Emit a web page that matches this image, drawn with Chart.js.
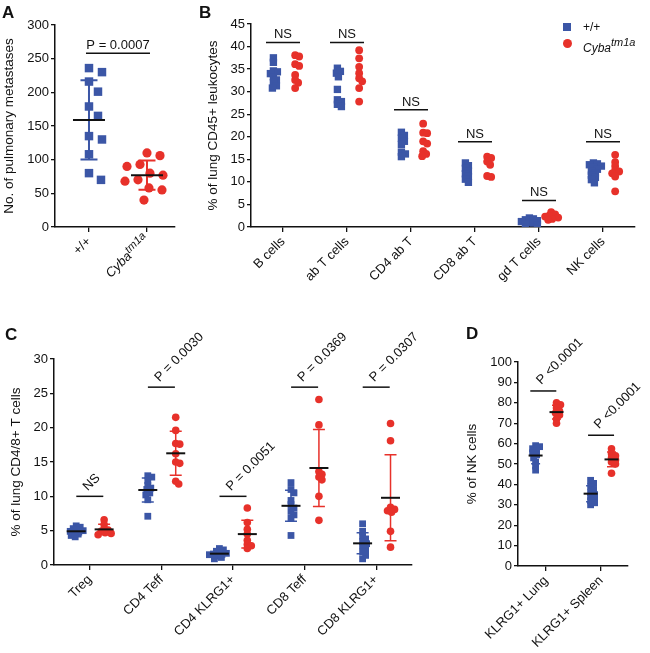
<!DOCTYPE html>
<html>
<head>
<meta charset="utf-8">
<script src="https://cdn.jsdelivr.net/npm/chart.js@4.4.1/dist/chart.umd.min.js"></script>
<style>
    body { margin: 0; background: #fff; font-family: 'Liberation Sans', Arial, sans-serif; }
    #wrap { position: relative; width: 650px; height: 653px; overflow: hidden; }
    .panel { position: absolute; }
    .letter { position: absolute; font-weight: bold; font-size: 17px; color: #111; line-height: 1; }
    .key { position: absolute; font-size: 12px; color: #111; line-height: 1; }
    .sq { position: absolute; width: 8px; height: 8px; background: #3b56a6; }
    .dot { position: absolute; width: 9px; height: 9px; border-radius: 50%; background: #e7312a; }
</style>
</head>
<body>
<div id="wrap">
    <div class="panel" style="left:0;top:0;width:195px;height:300px"><canvas id="chartA"></canvas></div>
    <div class="panel" style="left:195px;top:0;width:455px;height:300px"><canvas id="chartB"></canvas></div>
    <div class="panel" style="left:0;top:300px;width:425px;height:353px"><canvas id="chartC"></canvas></div>
    <div class="panel" style="left:440px;top:300px;width:210px;height:353px"><canvas id="chartD"></canvas></div>

    <div class="letter" style="left:2px;top:4px">A</div>
    <div class="letter" style="left:199px;top:4px">B</div>
    <div class="letter" style="left:5px;top:326px">C</div>
    <div class="letter" style="left:466px;top:325px">D</div>

    <span class="sq" style="left:563px;top:23px"></span>
    <span class="key" style="left:583px;top:21px">+/+</span>
    <span class="dot" style="left:563px;top:39px"></span>
    <span class="key" style="left:583px;top:38px"><i>Cyba</i><sup style="font-size:11px;position:relative;top:-1px"><i>tm1a</i></sup></span>
</div>

<script>
const BLUE = '#3b56a6';
const RED = '#e7312a';
const INK = '#111';
const FONT = "'Liberation Sans', Arial, sans-serif";

// ---- Panel A: pulmonary metastases ----
const aCats = ['+/+', ''];          // second label is drawn by hand (italic + superscript)
const aWild = [236, 230, 216, 201, 179, 165, 135, 130, 108, 80, 70];
const aMutant = [110, 106, 93, 90, 80, 77, 70, 68, 58, 55, 40];
const aYTicks = [0, 50, 100, 150, 200, 250, 300];
const aSigX = [0.5];
const aSigY = [258];
const aSigText = ['P = 0.0007'];

// ---- Panel B: lung CD45+ leukocytes ----
const bCats = ['B cells', 'ab T cells', 'CD4 ab T', 'CD8 ab T', 'gd T cells', 'NK cells'];
const bWild = [
    [37.5, 36.5, 34.6, 34.4, 34.0, 33.3, 32.6, 32.0, 31.3, 30.8],
    [35.2, 34.5, 34.1, 33.3, 30.5, 28.2, 27.8, 27.2, 26.7],
    [21.0, 20.3, 19.7, 19.0, 18.3, 16.6, 16.2, 15.6],
    [14.2, 13.6, 13.0, 12.4, 11.8, 11.2, 10.6, 9.9],
    [2.0, 1.8, 1.6, 1.4, 1.2, 1.0, 0.9, 0.7, 0.5],
    [14.2, 14.0, 13.8, 13.5, 13.2, 12.8, 12.4, 12.0, 11.5, 11.0, 10.5, 9.8]
];
const bMutant = [
    [38.1, 37.8, 36.1, 35.7, 33.7, 32.6, 32.0, 30.8],
    [39.2, 37.4, 35.5, 34.1, 33.0, 32.3, 30.8, 27.8],
    [22.9, 20.9, 20.8, 19.0, 18.5, 16.8, 16.2, 15.7],
    [15.6, 15.3, 14.5, 13.8, 11.3, 11.1],
    [3.3, 2.8, 2.5, 2.3, 2.1, 1.8, 1.6],
    [16.0, 14.4, 13.5, 12.6, 12.3, 11.9, 11.2, 7.9]
];
const bYTicks = [0, 5, 10, 15, 20, 25, 30, 35, 40, 45];
const bSigX = [0, 1, 2, 3, 4, 5];
const bSigY = [40.9, 40.9, 26.0, 18.9, 5.9, 18.9];
const bSigText = ['NS', 'NS', 'NS', 'NS', 'NS', 'NS'];

// ---- Panel C: lung CD4/8+ T cells ----
const cCats = ['Treg', 'CD4 Teff', 'CD4 KLRG1+', 'CD8 Teff', 'CD8 KLRG1+'];
const cWild = [
    [5.7, 5.5, 5.3, 5.1, 5.0, 4.9, 4.7, 4.5, 4.3, 4.1],
    [13.0, 12.8, 12.3, 11.6, 11.2, 11.0, 10.5, 10.2, 9.5, 7.1],
    [2.4, 2.2, 2.0, 1.8, 1.7, 1.6, 1.5, 1.3, 1.1, 0.9],
    [12.0, 11.0, 10.5, 9.4, 8.8, 8.3, 7.8, 7.3, 6.8, 4.3],
    [6.0, 4.9, 4.2, 3.8, 3.4, 3.1, 2.8, 2.3, 1.9, 1.4, 0.9]
];
const cMutant = [
    [6.6, 5.9, 5.3, 5.1, 4.9, 4.7, 4.6, 4.4],
    [21.5, 19.6, 17.7, 17.6, 16.2, 15.0, 14.8, 12.2, 11.8],
    [8.3, 6.2, 5.2, 4.5, 3.6, 3.0, 2.8, 2.4],
    [24.1, 20.4, 13.6, 13.2, 12.8, 12.4, 10.0, 6.5],
    [20.6, 18.1, 8.4, 8.1, 7.9, 7.7, 4.9, 2.6]
];
const cYTicks = [0, 5, 10, 15, 20, 25, 30];
const cSigX = [0, 1, 2, 3, 4];
const cSigY = [10.0, 25.9, 10.0, 25.9, 25.9];
const cSigText = ['NS', 'P = 0.0030', 'P = 0.0051', 'P = 0.0369', 'P = 0.0307'];

// ---- Panel D: NK cells ----
const dCats = ['KLRG1+ Lung', 'KLRG1+ Spleen'];
const dWild = [
    [59, 58.5, 57.5, 56.5, 55.5, 54.5, 53, 51, 49, 47],
    [42, 40.5, 39, 37.5, 36, 35, 34, 33, 32, 31, 30]
];
const dMutant = [
    [80, 79, 77.5, 76, 75, 74, 72, 70],
    [57.5, 55, 54, 53, 52, 51, 50, 45.5]
];
const dYTicks = [0, 10, 20, 30, 40, 50, 60, 70, 80, 90, 100];
const dSigX = [-0.05, 1];
const dSigY = [85.8, 64.1];
const dSigText = ['P <0.0001', 'P <0.0001'];

function groupPoints(valuesByCat, offset) {
    const pts = [];
    valuesByCat.forEach((vals, i) => vals.forEach(v => pts.push({ x: i + offset, y: v, base: i + offset })));
    return pts;
}

function groupStats(ds) {
    const groups = new Map();
    ds.data.forEach(p => {
        if (!groups.has(p.base)) groups.set(p.base, []);
        groups.get(p.base).push(p.y);
    });
    const out = [];
    groups.forEach((ys, base) => {
        const mean = ys.reduce((a, b) => a + b, 0) / ys.length;
        const sd = Math.sqrt(ys.reduce((a, b) => a + (b - mean) ** 2, 0) / (ys.length - 1));
        out.push({ base, mean, sd });
    });
    return out;
}

// spread points sideways so that close values sit next to each other
function swarm(chart) {
    const xs = chart.scales.x, ys = chart.scales.y;
    chart.data.datasets.forEach(ds => {
        const gap = ds.swarmGap;
        const byBase = new Map();
        ds.data.forEach(p => {
            if (!byBase.has(p.base)) byBase.set(p.base, []);
            byBase.get(p.base).push(p);
        });
        const out = [];
        byBase.forEach((pts, base) => {
            const cx = xs.getPixelForValue(base);
            const placed = [];
            pts.slice().sort((a, b) => b.y - a.y).forEach(p => {
                const py = ys.getPixelForValue(p.y);
                let off = 0;
                for (let k = 0; k < 400; k++) {
                    const o = (k % 2 ? 1 : -1) * Math.ceil(k / 2);
                    if (placed.every(q => (q.px - cx - o) ** 2 + (q.py - py) ** 2 >= gap * gap)) { off = o; break; }
                }
                placed.push({ px: cx + off, py });
                out.push({ x: xs.getValueForPixel(cx + off), y: p.y, base });
            });
        });
        ds.data = out;
    });
    chart.update('none');
}

const statsPlugin = {
    id: 'stats',
    beforeDatasetsDraw(chart, args, o) {
        if (!o.capHalf) return;
        const { ctx } = chart, xs = chart.scales.x, ys = chart.scales.y;
        chart.data.datasets.forEach(ds => {
            groupStats(ds).forEach(g => {
                const x = xs.getPixelForValue(g.base);
                const y1 = ys.getPixelForValue(g.mean - g.sd), y2 = ys.getPixelForValue(g.mean + g.sd);
                ctx.save();
                ctx.strokeStyle = ds.backgroundColor;
                ctx.lineWidth = o.barWidth;
                ctx.beginPath();
                ctx.moveTo(x, y1); ctx.lineTo(x, y2);
                ctx.moveTo(x - o.capHalf, y1); ctx.lineTo(x + o.capHalf, y1);
                ctx.moveTo(x - o.capHalf, y2); ctx.lineTo(x + o.capHalf, y2);
                ctx.stroke();
                ctx.restore();
            });
        });
    },
    afterDatasetsDraw(chart, args, o) {
        const { ctx } = chart, xs = chart.scales.x, ys = chart.scales.y;
        ctx.save();
        if (o.meanHalf) {
            ctx.strokeStyle = INK;
            ctx.lineWidth = 2;
            chart.data.datasets.forEach(ds => {
                groupStats(ds).forEach(g => {
                    const x = xs.getPixelForValue(g.base), y = ys.getPixelForValue(g.mean);
                    ctx.beginPath(); ctx.moveTo(x - o.meanHalf, y); ctx.lineTo(x + o.meanHalf, y); ctx.stroke();
                });
            });
        }
        ctx.strokeStyle = INK;
        ctx.lineWidth = 1.5;
        ctx.fillStyle = INK;
        ctx.font = '13px ' + FONT;
        o.sig.forEach(s => {
            const cx = xs.getPixelForValue(s.x), y = ys.getPixelForValue(s.y);
            ctx.beginPath(); ctx.moveTo(cx - o.sigHalf, y); ctx.lineTo(cx + o.sigHalf, y); ctx.stroke();
            if (o.sigRotate) {
                ctx.save();
                ctx.translate(cx + o.textDx, y + o.textDy);
                ctx.rotate(-Math.PI / 4);
                ctx.textAlign = 'left';
                ctx.textBaseline = 'alphabetic';
                ctx.fillText(s.text, 0, 0);
                ctx.restore();
            } else {
                ctx.textAlign = 'center';
                ctx.textBaseline = 'alphabetic';
                ctx.fillText(s.text, cx, y - 4);
            }
        });
        if (o.italicLabel) {
            // x label with italic gene name and superscript allele
            const lab = o.italicLabel;
            const x = xs.getPixelForValue(lab.at), y = xs.top + 10;
            ctx.translate(x, y);
            ctx.rotate(-Math.PI / 4);
            ctx.textBaseline = 'middle';
            ctx.textAlign = 'right';
            ctx.font = 'italic 11px ' + FONT;
            const wSup = ctx.measureText(lab.sup).width;
            ctx.fillText(lab.sup, 0, -4);
            ctx.font = 'italic 13px ' + FONT;
            ctx.fillText(lab.name, -wSup, 0);
        }
        ctx.restore();
    }
};

function buildPanel(id, p) {
    const datasets = p.groups.map(g => ({
        data: groupPoints(g.values, g.offset),
        pointStyle: g.shape,
        pointRadius: g.radius,
        pointHoverRadius: g.radius,
        backgroundColor: g.color,
        borderColor: g.color,
        pointBorderWidth: 0,
        showLine: false,
        swarmGap: p.gap
    }));
    const tickFont = { family: FONT, size: 13 };
    const chart = new Chart(document.getElementById(id), {
        type: 'scatter',
        data: { datasets },
        options: {
            responsive: true,
            maintainAspectRatio: false,
            animation: false,
            events: [],
            layout: { padding: p.pad },
            plugins: {
                legend: { display: false },
                tooltip: { enabled: false },
                stats: p.stats
            },
            scales: {
                x: {
                    type: 'linear',
                    min: p.xMin,
                    max: p.xMax,
                    afterBuildTicks: s => { s.ticks = p.cats.map((c, i) => ({ value: i })); },
                    afterFit: s => { s.height = p.xHeight; },
                    ticks: {
                        callback: v => p.cats[v],
                        minRotation: 45,
                        maxRotation: 45,
                        autoSkip: false,
                        color: INK,
                        font: tickFont,
                        padding: 2
                    },
                    grid: { drawOnChartArea: false, drawTicks: true, tickLength: 5, color: INK, lineWidth: 1.3 },
                    border: { color: INK, width: 1.5 }
                },
                y: {
                    min: p.yTicks[0],
                    max: p.yTicks[p.yTicks.length - 1],
                    afterBuildTicks: s => { s.ticks = p.yTicks.map(v => ({ value: v })); },
                    afterFit: s => { s.width = p.yWidth; },
                    title: {
                        display: true,
                        text: p.yTitle,
                        color: INK,
                        font: { family: FONT, size: 13.5 },
                        padding: { top: p.titlePad, bottom: 0 }
                    },
                    ticks: { color: INK, font: tickFont, padding: 2 },
                    grid: { drawOnChartArea: false, drawTicks: true, tickLength: 4, color: INK, lineWidth: 1.3 },
                    border: { color: INK, width: 1.5 }
                }
            }
        },
        plugins: [statsPlugin]
    });
    swarm(chart);
    return chart;
}

function sigList(xs, ys, texts) {
    return ys.map((y, i) => ({ x: xs[i], y, text: texts[i] }));
}

document.addEventListener('DOMContentLoaded', function() {
    buildPanel('chartA', {
        cats: aCats, yTicks: aYTicks, yTitle: 'No. of pulmonary metastases',
        xMin: -0.586, xMax: 1.483, xHeight: 73, yWidth: 55, titlePad: 1,
        pad: { left: 0, top: 25, right: 20, bottom: 0 }, gap: 13,
        groups: [
            { values: [aWild, []], offset: 0, shape: 'rect', radius: 6, color: BLUE },
            { values: [[], aMutant], offset: 0, shape: 'circle', radius: 4.6, color: RED }
        ],
        stats: {
            meanHalf: 16, capHalf: 8.5, barWidth: 2,
            sig: sigList(aSigX, aSigY, aSigText), sigHalf: 32, sigRotate: false,
            italicLabel: { at: 1, name: 'Cyba', sup: 'tm1a' }
        }
    });

    buildPanel('chartB', {
        cats: bCats, yTicks: bYTicks, yTitle: '% of lung CD45+ leukocytes',
        xMin: -0.5, xMax: 5.5, xHeight: 73, yWidth: 56, titlePad: 10,
        pad: { left: 0, top: 24, right: 15, bottom: 0 }, gap: 3.8,
        groups: [
            { values: bWild, offset: -0.15, shape: 'rect', radius: 5.2, color: BLUE },
            { values: bMutant, offset: 0.19, shape: 'circle', radius: 3.9, color: RED }
        ],
        stats: { sig: sigList(bSigX, bSigY, bSigText), sigHalf: 17, sigRotate: false }
    });

    buildPanel('chartC', {
        cats: cCats, yTicks: cYTicks, yTitle: '% of lung CD4/8+ T cells',
        xMin: -0.5, xMax: 4.5, xHeight: 88, yWidth: 54, titlePad: 8,
        pad: { left: 0, top: 59, right: 13, bottom: 0 }, gap: 4,
        groups: [
            { values: cWild, offset: -0.19, shape: 'rect', radius: 4.8, color: BLUE },
            { values: cMutant, offset: 0.2, shape: 'circle', radius: 3.8, color: RED }
        ],
        stats: {
            meanHalf: 9.5, capHalf: 6, barWidth: 1.5,
            sig: sigList(cSigX, cSigY, cSigText), sigHalf: 13.5, sigRotate: true, textDx: -2, textDy: -5
        }
    });

    buildPanel('chartD', {
        cats: dCats, yTicks: dYTicks, yTitle: '% of NK cells',
        xMin: -0.51, xMax: 1.49, xHeight: 87, yWidth: 78, titlePad: 24,
        pad: { left: 0, top: 62, right: 22, bottom: 0 }, gap: 4,
        groups: [
            { values: dWild, offset: -0.19, shape: 'rect', radius: 4.8, color: BLUE },
            { values: dMutant, offset: 0.19, shape: 'circle', radius: 3.8, color: RED }
        ],
        stats: {
            meanHalf: 7, capHalf: 4.5, barWidth: 1.5,
            sig: sigList(dSigX, dSigY, dSigText), sigHalf: 13, sigRotate: true, textDx: -2, textDy: -6
        }
    });
});
</script>
</body>
</html>
